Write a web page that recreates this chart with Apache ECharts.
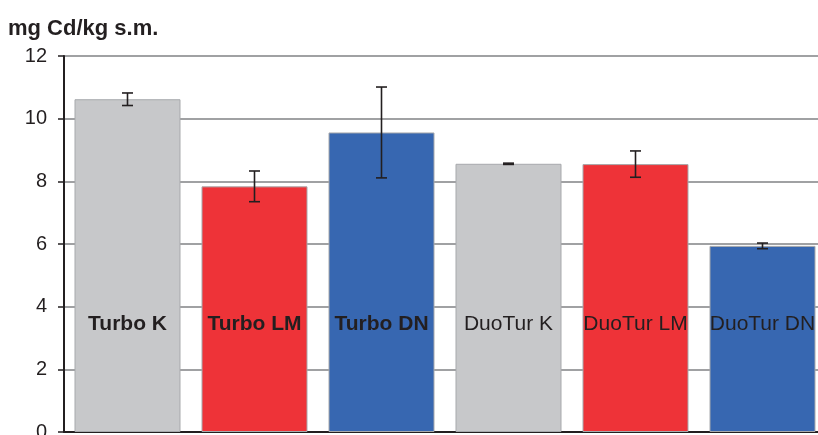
<!DOCTYPE html>
<html><head><meta charset="utf-8">
<script src="https://cdn.jsdelivr.net/npm/echarts@6/dist/echarts.min.js"></script>
<style>html,body{margin:0;padding:0;background:#fff}#c{width:818px;height:435px}</style>
</head><body><div id="c"></div>
<script>
const categories = ['Turbo K','Turbo LM','Turbo DN','DuoTur K','DuoTur LM','DuoTur DN'];
const values = [10.62, 7.84, 9.56, 8.56, 8.55, 5.94];
const errors = [0.20, 0.49, 1.45, 0.02, 0.42, 0.09];
const boldLabels = [true, true, true, false, false, false];
const barColors = ['#c7c8ca','#ee3338','#3767b1','#c7c8ca','#ee3338','#3767b1'];
const yTicks = [0, 2, 4, 6, 8, 10, 12];
const yTitle = 'mg Cd/kg s.m.';

const ink = '#231f20';
const chart = echarts.init(document.getElementById('c'));
chart.setOption({
  animation: false,
  textStyle: {fontFamily: 'Liberation Sans, Arial, sans-serif'},
  graphic: [{
    type: 'text', left: 8, top: 18,
    style: {text: yTitle, font: 'bold 22px "Liberation Sans", Arial, sans-serif', fill: ink}
  }],
  grid: {left: 64, right: -8, top: 56, bottom: 3, containLabel: false, outerBoundsMode: 'none'},
  xAxis: {
    type: 'category', data: categories,
    axisLine: {show: true, lineStyle: {color: ink, width: 2}},
    axisTick: {show: false}, axisLabel: {show: false}
  },
  yAxis: {
    type: 'value', min: yTicks[0], max: yTicks[yTicks.length-1], interval: 2,
    axisLine: {show: true, lineStyle: {color: ink, width: 2}},
    axisTick: {show: true, length: 6, lineStyle: {color: ink, width: 1.5}},
    axisLabel: {color: ink, fontSize: 20, margin: 17},
    splitLine: {show: true, lineStyle: {color: '#808285', width: 1.5}}
  },
  series: [{
    type: 'bar', barWidth: 106,
    data: values.map((v, i) => ({
      value: v,
      itemStyle: {color: barColors[i], borderColor: '#a7a9ac', borderWidth: 1},
      label: {
        show: true, position: 'insideBottom', distance: 97,
        formatter: categories[i], color: ink, fontSize: 21,
        fontWeight: boldLabels[i] ? 'bold' : 'normal'
      }
    })),
    z: 2
  }, {
    type: 'custom', z: 5,
    data: values.map((v, i) => [i, v - errors[i], v + errors[i]]),
    renderItem: function (params, api) {
      const lo = api.coord([api.value(0), api.value(1)]);
      const hi = api.coord([api.value(0), api.value(2)]);
      const hw = 5.5;
      const st = {stroke: ink, lineWidth: 1.6};
      return {type: 'group', children: [
        {type: 'line', shape: {x1: lo[0], y1: lo[1], x2: hi[0], y2: hi[1]}, style: st},
        {type: 'line', shape: {x1: lo[0]-hw, y1: lo[1], x2: lo[0]+hw, y2: lo[1]}, style: st},
        {type: 'line', shape: {x1: hi[0]-hw, y1: hi[1], x2: hi[0]+hw, y2: hi[1]}, style: st}
      ]};
    }
  }]
});
</script></body></html>
